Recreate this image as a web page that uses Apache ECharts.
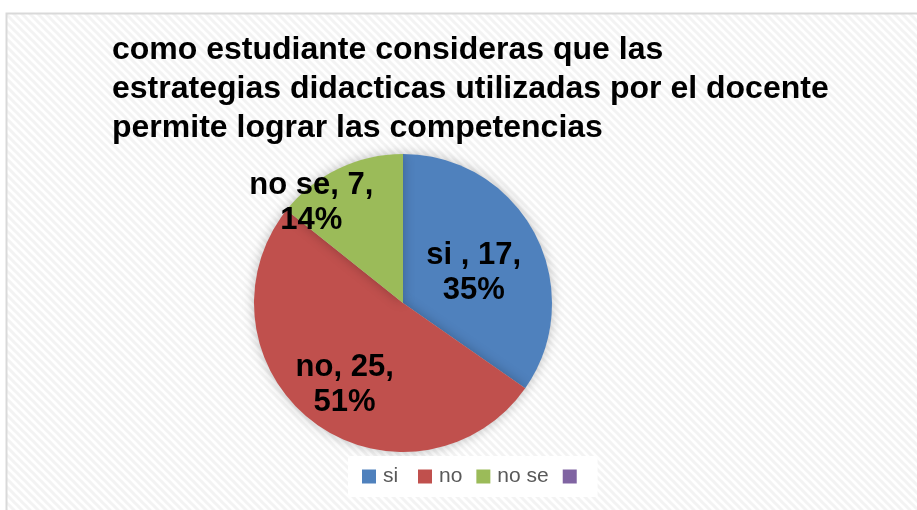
<!DOCTYPE html>
<html>
<head>
<meta charset="utf-8">
<script src="https://cdn.jsdelivr.net/npm/echarts@6/dist/echarts.min.js"></script>
<style>
  html, body { margin: 0; padding: 0; background: #fff; }
  #chart1 { width: 917px; height: 510px; }
</style>
</head>
<body>
<div id="chart1"></div>
<script>
// 数据
var titleText = 'como estudiante consideras que las\nestrategias didacticas utilizadas por el docente\npermite lograr las competencias';
var categories = ['si ', 'no', 'no se', ' '];
var values = [17, 25, 7, 0];
var colors = ['#4F81BD', '#C0504D', '#9BBB59', '#8064A2'];
// 标签微调 (Excel 的最佳位置)
var labelShift = [[2, 6], [-12, 20], [-58, -30], [0, 0]];

// 背景斜纹
var pat = document.createElement('canvas');
pat.width = 8; pat.height = 8;
var ctx = pat.getContext('2d');
ctx.fillStyle = '#ffffff';
ctx.fillRect(0, 0, 8, 8);
ctx.strokeStyle = '#f3f3f3';
ctx.lineWidth = 3;
ctx.beginPath();
ctx.moveTo(-2, -2); ctx.lineTo(10, 10);
ctx.moveTo(-10, -2); ctx.lineTo(2, 10);
ctx.moveTo(6, -2); ctx.lineTo(18, 10);
ctx.stroke();

var pieData = categories.map(function (c, i) {
    var item = { name: c, value: values[i], itemStyle: { color: colors[i] } };
    if (values[i] === 0) item.label = { show: false };
    return item;
});

option = {
    backgroundColor: '#fff',
    animation: false,
    graphic: [{
        type: 'rect',
        shape: { x: 6.5, y: 13.5, width: 930, height: 520 },
        style: { fill: { image: pat, repeat: 'repeat' }, stroke: '#d9d9d9', lineWidth: 2 },
        z: -10,
        silent: true
    }],
    title: {
        text: titleText,
        left: 112,
        top: 31,
        padding: 0,
        textStyle: {
            color: '#000',
            fontFamily: '"Liberation Sans", Arial, sans-serif',
            fontWeight: 'bold',
            fontSize: 32,
            lineHeight: 39
        }
    },
    legend: {
        data: categories,
        left: 348,
        top: 456,
        orient: 'horizontal',
        backgroundColor: '#fff',
        padding: [10, 8, 10, 14],
        itemWidth: 14,
        itemHeight: 14,
        itemGap: 14,
        icon: 'rect',
        textStyle: {
            color: '#595959',
            fontFamily: '"Liberation Sans", Arial, sans-serif',
            fontSize: 21,
            padding: [0, 0, 0, 2]
        }
    },
    series: [{
        type: 'pie',
        center: [403, 303],
        radius: 149,
        startAngle: 90,
        clockwise: true,
        percentPrecision: 0,
        stillShowZeroSum: false,
        data: pieData,
        itemStyle: {
            borderWidth: 0,
            shadowBlur: 12,
            shadowColor: 'rgba(0,0,0,0.25)'
        },
        label: {
            show: true,
            position: 'inside',
            formatter: '{b}, {c},\n{d}%',
            color: '#000',
            fontFamily: '"Liberation Sans", Arial, sans-serif',
            fontWeight: 'bold',
            fontSize: 31,
            lineHeight: 35
        },
        labelLine: { show: false },
        labelLayout: function (params) {
            var s = labelShift[params.dataIndex];
            return { dx: s[0], dy: s[1] };
        },
        emphasis: { disabled: true }
    }]
};

var myChart = echarts.init(document.getElementById('chart1'));
myChart.setOption(option);
</script>
</body>
</html>
